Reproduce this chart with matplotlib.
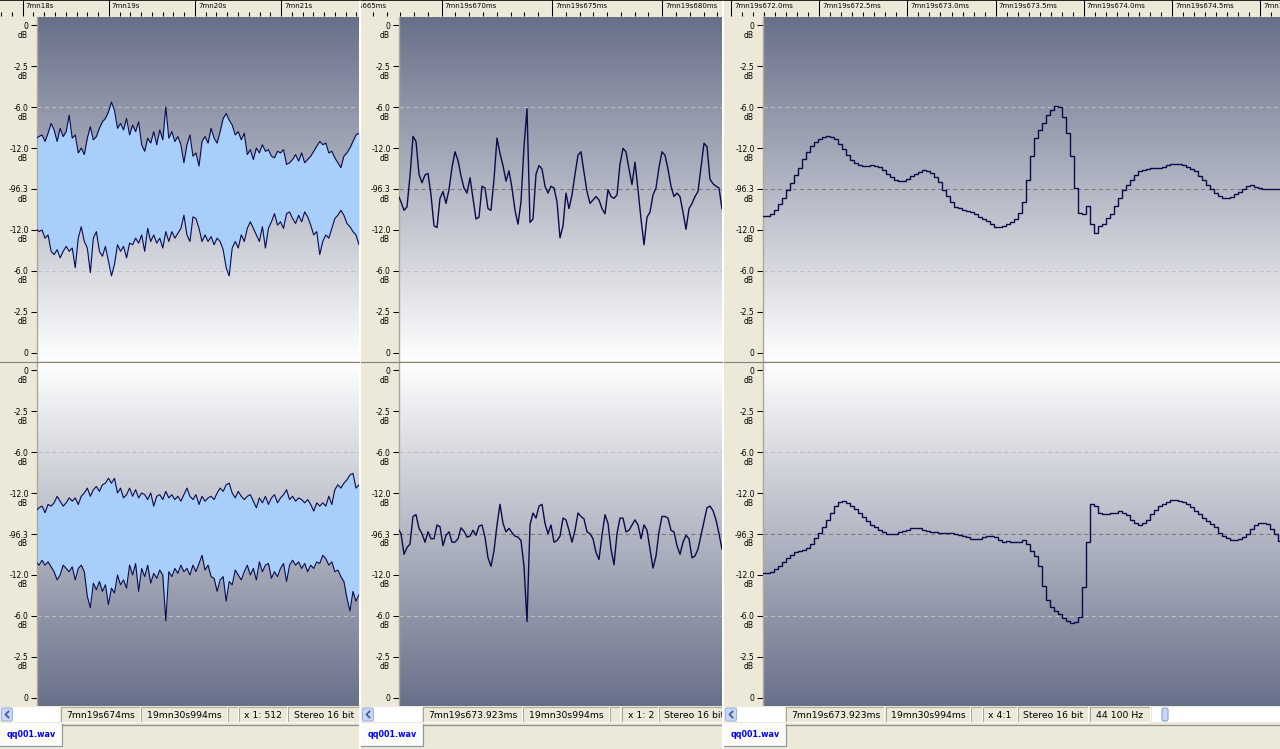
import numpy as np
import matplotlib
matplotlib.use("Agg")
import matplotlib.pyplot as plt
from matplotlib import transforms
from matplotlib.colors import LinearSegmentedColormap
from matplotlib.patches import Rectangle, FancyBboxPatch
from matplotlib.ticker import MultipleLocator

plt.rcParams["font.family"] = ["DejaVu Sans"]

# ---------------------------------------------------------------- data
level_amps = [1.0, 0.75, 0.5, 0.25, 0.0, -0.25, -0.5, -0.75, -1.0]
level_labels = ["0", "-2.5", "-6.0", "-12.0", "-96.3", "-12.0", "-6.0", "-2.5", "0"]

# view 1 (zoom x 1:512): min / max envelopes, left and right channels
p1_left_max = [0.31, 0.32, 0.33, 0.29, 0.34, 0.40, 0.36, 0.29, 0.37, 0.32,
               0.35, 0.45, 0.31, 0.33, 0.22, 0.25, 0.21, 0.31, 0.38, 0.30,
               0.32, 0.37, 0.41, 0.43, 0.47, 0.53, 0.48, 0.37, 0.40, 0.36,
               0.43, 0.33, 0.39, 0.35, 0.41, 0.27, 0.23, 0.31, 0.28, 0.35,
               0.27, 0.36, 0.30, 0.50, 0.31, 0.35, 0.29, 0.32, 0.27, 0.16,
               0.27, 0.33, 0.20, 0.22, 0.14, 0.29, 0.32, 0.28, 0.37, 0.31,
               0.28, 0.35, 0.43, 0.46, 0.42, 0.39, 0.33, 0.35, 0.30, 0.34,
               0.21, 0.24, 0.18, 0.25, 0.22, 0.27, 0.23, 0.24, 0.20, 0.19,
               0.23, 0.22, 0.24, 0.15, 0.16, 0.18, 0.21, 0.17, 0.22, 0.16,
               0.18, 0.20, 0.23, 0.26, 0.29, 0.27, 0.28, 0.22, 0.23, 0.19,
               0.16, 0.13, 0.20, 0.22, 0.25, 0.29, 0.33, 0.34]
p1_left_min = [-0.24, -0.26, -0.25, -0.30, -0.28, -0.38, -0.40, -0.37, -0.42, -0.38,
               -0.35, -0.38, -0.36, -0.48, -0.30, -0.23, -0.32, -0.36, -0.51, -0.30,
               -0.26, -0.38, -0.41, -0.35, -0.44, -0.53, -0.46, -0.34, -0.38, -0.35,
               -0.42, -0.33, -0.34, -0.30, -0.33, -0.28, -0.38, -0.24, -0.32, -0.28,
               -0.33, -0.30, -0.36, -0.26, -0.32, -0.26, -0.30, -0.27, -0.24, -0.16,
               -0.28, -0.32, -0.17, -0.18, -0.24, -0.32, -0.28, -0.32, -0.29, -0.34,
               -0.30, -0.32, -0.37, -0.48, -0.53, -0.36, -0.32, -0.36, -0.28, -0.32,
               -0.24, -0.20, -0.24, -0.28, -0.32, -0.23, -0.36, -0.24, -0.20, -0.15,
               -0.22, -0.20, -0.24, -0.15, -0.14, -0.18, -0.21, -0.16, -0.20, -0.14,
               -0.17, -0.22, -0.28, -0.26, -0.40, -0.32, -0.28, -0.30, -0.24, -0.18,
               -0.16, -0.13, -0.16, -0.21, -0.23, -0.26, -0.28, -0.34]
p1_right_max = [0.14, 0.16, 0.17, 0.13, 0.18, 0.17, 0.19, 0.23, 0.20, 0.17,
                0.19, 0.22, 0.20, 0.22, 0.18, 0.23, 0.25, 0.28, 0.23, 0.27,
                0.29, 0.26, 0.30, 0.31, 0.34, 0.31, 0.34, 0.25, 0.28, 0.22,
                0.24, 0.28, 0.23, 0.27, 0.22, 0.25, 0.24, 0.21, 0.25, 0.17,
                0.23, 0.24, 0.21, 0.26, 0.22, 0.24, 0.21, 0.23, 0.20, 0.24,
                0.28, 0.23, 0.21, 0.24, 0.18, 0.23, 0.20, 0.22, 0.23, 0.21,
                0.25, 0.28, 0.26, 0.30, 0.31, 0.25, 0.22, 0.26, 0.23, 0.21,
                0.23, 0.24, 0.20, 0.16, 0.22, 0.19, 0.23, 0.18, 0.22, 0.24,
                0.19, 0.22, 0.24, 0.27, 0.21, 0.23, 0.20, 0.22, 0.21, 0.19,
                0.21, 0.18, 0.14, 0.19, 0.17, 0.19, 0.17, 0.23, 0.18, 0.27,
                0.30, 0.28, 0.31, 0.33, 0.36, 0.37, 0.28, 0.30]
p1_right_min = [-0.17, -0.19, -0.16, -0.19, -0.17, -0.20, -0.23, -0.28, -0.25, -0.19,
                -0.21, -0.23, -0.20, -0.28, -0.21, -0.19, -0.23, -0.38, -0.45, -0.30,
                -0.34, -0.29, -0.35, -0.31, -0.43, -0.33, -0.36, -0.25, -0.31, -0.28,
                -0.33, -0.19, -0.25, -0.18, -0.35, -0.21, -0.26, -0.19, -0.30, -0.24,
                -0.27, -0.22, -0.25, -0.53, -0.23, -0.26, -0.21, -0.24, -0.19, -0.23,
                -0.21, -0.25, -0.19, -0.23, -0.18, -0.13, -0.22, -0.19, -0.26, -0.27,
                -0.35, -0.28, -0.26, -0.41, -0.29, -0.31, -0.22, -0.25, -0.28, -0.23,
                -0.19, -0.25, -0.21, -0.28, -0.17, -0.23, -0.19, -0.18, -0.27, -0.23,
                -0.26, -0.21, -0.18, -0.29, -0.19, -0.16, -0.19, -0.17, -0.21, -0.18,
                -0.23, -0.19, -0.21, -0.17, -0.18, -0.13, -0.15, -0.19, -0.17, -0.23,
                -0.22, -0.26, -0.29, -0.39, -0.47, -0.35, -0.41, -0.37]

# view 2 (zoom x 1:2): waveform, left and right channels
p2_left = [-0.036, -0.078, -0.130, -0.109, 0.080, 0.321, 0.290, 0.090, 0.038, 0.086,
           0.095, -0.036, -0.225, -0.235, -0.057, -0.015, -0.088, -0.004, 0.132, 0.227,
           0.174, 0.080, 0.006, -0.025, 0.069, -0.057, -0.183, -0.172, 0.017, 0.006,
           -0.120, -0.130, 0.059, 0.311, 0.216, 0.143, 0.048, 0.111, 0.006, -0.130,
           -0.214, -0.078, 0.258, 0.489, -0.204, -0.183, 0.090, 0.143, 0.122, 0.017,
           -0.025, 0.017, 0.006, -0.078, -0.298, -0.225, -0.025, -0.120, -0.036, 0.090,
           0.206, 0.227, 0.101, -0.015, -0.088, -0.067, -0.046, -0.067, -0.120, -0.151,
           -0.004, -0.046, -0.057, -0.036, 0.153, 0.248, 0.227, 0.122, 0.027, 0.164,
           -0.004, -0.183, -0.340, -0.172, -0.141, -0.036, 0.006, 0.132, 0.227, 0.206,
           0.122, 0.017, -0.046, -0.025, -0.046, -0.141, -0.246, -0.120, -0.088, -0.046,
           -0.015, 0.132, 0.279, 0.258, 0.059, 0.032, 0.017, 0.006, -0.120]
p2_right = [0.034, 0.002, -0.124, -0.082, -0.061, 0.107, 0.118, 0.034, 0.002, -0.050,
            0.013, -0.029, -0.029, 0.055, 0.044, -0.071, -0.008, 0.013, -0.050, -0.050,
            -0.029, 0.038, 0.017, -0.019, -0.013, 0.023, -0.008, 0.048, 0.055, -0.019,
            -0.145, -0.197, -0.103, 0.055, 0.181, 0.065, 0.013, 0.034, 0.008, -0.013,
            -0.019, -0.040, -0.197, -0.534, 0.055, 0.128, 0.097, 0.170, 0.181, 0.065,
            0.002, 0.055, -0.050, -0.040, -0.013, 0.097, 0.086, 0.023, -0.050, 0.023,
            0.128, 0.107, 0.092, 0.013, 0.002, -0.029, -0.113, -0.155, -0.008, 0.118,
            0.065, -0.092, -0.187, 0.002, 0.097, 0.097, 0.013, 0.023, 0.055, 0.086,
            0.055, -0.029, 0.055, 0.023, -0.092, -0.208, -0.134, 0.013, 0.107, 0.107,
            0.097, 0.023, 0.013, -0.071, -0.124, -0.050, -0.008, -0.029, -0.145, -0.134,
            -0.092, -0.008, 0.076, 0.160, 0.170, 0.143, 0.086, 0.002, -0.092]

# view 3 (zoom x 4:1): individual samples, left and right channels
p3_left = [-0.166, -0.162, -0.151, -0.130, -0.092, -0.057, -0.006, 0.034, 0.084, 0.130,
           0.181, 0.223, 0.261, 0.288, 0.305, 0.317, 0.321, 0.317, 0.305, 0.273,
           0.242, 0.206, 0.174, 0.158, 0.145, 0.139, 0.139, 0.145, 0.141, 0.132,
           0.116, 0.092, 0.074, 0.057, 0.048, 0.046, 0.061, 0.078, 0.090, 0.103,
           0.116, 0.111, 0.099, 0.074, 0.040, -0.006, -0.044, -0.082, -0.107, -0.118,
           -0.126, -0.134, -0.143, -0.153, -0.170, -0.181, -0.195, -0.212, -0.229, -0.231,
           -0.225, -0.216, -0.204, -0.181, -0.149, -0.078, 0.053, 0.200, 0.313, 0.361,
           0.401, 0.450, 0.481, 0.508, 0.498, 0.437, 0.340, 0.200, 0.006, -0.149,
           -0.153, -0.105, -0.214, -0.271, -0.225, -0.216, -0.179, -0.155, -0.105, -0.055,
           -0.006, 0.023, 0.057, 0.086, 0.107, 0.116, 0.122, 0.126, 0.128, 0.128,
           0.137, 0.149, 0.153, 0.155, 0.155, 0.147, 0.134, 0.124, 0.107, 0.082,
           0.057, 0.027, -0.002, -0.027, -0.044, -0.055, -0.055, -0.048, -0.032, -0.017,
           0.000, 0.019, 0.023, 0.015, 0.006, 0.000, 0.000, 0.000, 0.000, 0.000]
p3_right = [-0.237, -0.237, -0.231, -0.214, -0.197, -0.172, -0.147, -0.128, -0.111, -0.105,
            -0.099, -0.086, -0.061, -0.023, 0.006, 0.044, 0.084, 0.128, 0.170, 0.193,
            0.200, 0.189, 0.172, 0.153, 0.128, 0.105, 0.080, 0.057, 0.040, 0.023,
            0.011, 0.002, 0.000, 0.000, 0.011, 0.019, 0.025, 0.036, 0.038, 0.036,
            0.027, 0.019, 0.015, 0.013, 0.006, 0.006, 0.006, 0.006, 0.002, -0.004,
            -0.011, -0.021, -0.029, -0.029, -0.029, -0.021, -0.015, -0.013, -0.021, -0.038,
            -0.046, -0.042, -0.046, -0.046, -0.046, -0.038, -0.059, -0.101, -0.134, -0.197,
            -0.315, -0.401, -0.443, -0.471, -0.489, -0.515, -0.529, -0.540, -0.536, -0.506,
            -0.324, -0.046, 0.181, 0.170, 0.128, 0.124, 0.120, 0.128, 0.128, 0.139,
            0.128, 0.118, 0.088, 0.065, 0.057, 0.065, 0.084, 0.120, 0.145, 0.170,
            0.185, 0.195, 0.206, 0.206, 0.202, 0.193, 0.181, 0.164, 0.139, 0.122,
            0.099, 0.078, 0.061, 0.040, 0.008, -0.011, -0.027, -0.036, -0.036, -0.029,
            -0.017, 0.000, 0.029, 0.053, 0.065, 0.065, 0.059, 0.029, 0.000, -0.042]

status_p1 = ["7mn19s674ms", "19mn30s994ms", "", "x 1: 512", "Stereo 16 bit"]
status_p2 = ["7mn19s673.923ms", "19mn30s994ms", "", "x 1: 2", "Stereo 16 bit"]
status_p3 = ["7mn19s673.923ms", "19mn30s994ms", "", "x 4:1", "Stereo 16 bit", "44 100 Hz"]
file_name = "qq001.wav"


def fmt_seconds(t):
    s = int(round(t))
    return f"{s // 60}mn{s % 60}s"


def fmt_ms(t):
    return f"7mn19s{t:.0f}ms"


def fmt_ms1(t):
    return f"7mn19s{t:.1f}ms"


# ---------------------------------------------------------------- style / layout
W, H, DPI = 1280, 749, 100
BEIGE = "#ece9d8"
EDGE = "#aca899"
DARK = "#687089"
WAVE = "#0b0b4b"
FILL = "#a8cffa"
GRID_LIGHT = "#bfbfbf"
GRID_MID = "#7b7b7b"
YL = 1.049

fig = plt.figure(figsize=(W / DPI, H / DPI), dpi=DPI, facecolor="white")
grad_cmap = LinearSegmentedColormap.from_list("grad", [DARK, "#ffffff"])


def px_axes(x0, y0, x1, y1, z=0):
    ax = fig.add_axes([x0 / W, 1 - y1 / H, (x1 - x0) / W, (y1 - y0) / H])
    ax.set_zorder(z)
    return ax


def bare(ax):
    ax.set_xticks([])
    ax.set_yticks([])
    for s in ax.spines.values():
        s.set_visible(False)


def channel(px0, px1, y0, y1, dark_top, xlim):
    ax = px_axes(px0, y0, px1, y1, z=2)
    grad = np.linspace(0, 1, 256).reshape(-1, 1)
    if not dark_top:
        grad = grad[::-1]
    ax.imshow(grad, cmap=grad_cmap, aspect="auto", origin="upper",
              extent=(xlim[0], xlim[1], -YL, YL), interpolation="bilinear", zorder=0)
    ax.set_xlim(*xlim)
    ax.set_ylim(-YL, YL)
    for a in (0.5, -0.5):
        ax.axhline(a, color=GRID_LIGHT, lw=0.75, dashes=(4, 3), zorder=1)
    ax.axhline(0.0, color=GRID_MID, lw=0.75, dashes=(4, 3), zorder=1)
    ax.set_xticks([])
    ax.set_yticks(level_amps)
    ax.set_yticklabels(level_labels)
    ax.tick_params(axis="y", length=4.5, width=0.75, pad=1.5, labelsize=5.5, colors="black")
    for s in ("top", "right", "bottom"):
        ax.spines[s].set_visible(False)
    ax.spines["left"].set_color(EDGE)
    ax.spines["left"].set_linewidth(1.0)
    tr = (transforms.blended_transform_factory(ax.transAxes, ax.transData)
          + transforms.ScaledTranslation(-14.5 / DPI, -10 / DPI, fig.dpi_scale_trans))
    for a in level_amps[:-1]:
        ax.text(0, a, "dB", transform=tr, ha="center", va="center", fontsize=5.5, clip_on=False)
    return ax


def ruler(x0, x1, lim, major, fmt):
    ax = px_axes(x0, 0, x1, 16, z=2)
    ax.set_facecolor(BEIGE)
    ax.set_xlim(*lim)
    ax.set_ylim(0, 1)
    ax.set_yticks([])
    ax.xaxis.set_major_locator(MultipleLocator(major))
    ax.xaxis.set_minor_locator(MultipleLocator(major / 8))
    ax.tick_params(axis="x", which="major", direction="in", length=11.5, width=0.75,
                   color="black", labelbottom=False)
    ax.tick_params(axis="x", which="minor", direction="in", length=2.9, width=0.75, color="black")
    for s in ("left", "right", "bottom"):
        ax.spines[s].set_visible(False)
    ax.spines["top"].set_color("black")
    ax.spines["top"].set_linewidth(1.2)
    off = transforms.ScaledTranslation(3 / DPI, 0, fig.dpi_scale_trans)
    t = np.floor(lim[0] / major) * major
    if lim[0] - t > 0.5 * major:      # label of that tick would be entirely hidden
        t += major
    while t < lim[1]:
        ax.text(t, 0.6, fmt(t), transform=ax.transData + off, fontsize=5.0,
                ha="left", va="center", clip_on=True)
        t += major
    return ax


def chrome(x0, x1, boxes, fields):
    ax = px_axes(x0, 706, x1, H, z=3)
    ax.set_xlim(x0, x1)
    ax.set_ylim(H, 706)
    ax.set_facecolor(BEIGE)
    bare(ax)
    ax.add_patch(FancyBboxPatch((x0 + 1.5, 708), 11, 13, boxstyle="round,pad=0,rounding_size=2",
                                fc="#c6d6fc", ec="#9db5e8", lw=0.75))
    ax.plot([x0 + 8.5, x0 + 5.5, x0 + 8.5], [711.5, 714.5, 717.5], color="#4b5f8a", lw=1.3)
    ax.add_patch(Rectangle((x0 + 13, 707), boxes[0][0] - x0 - 14, 15, fc="white", ec="none"))
    for (l, r), txt in zip(boxes, fields):
        ax.add_patch(Rectangle((l, 707), r - l, 15, fc=BEIGE, ec="none"))
        ax.plot([l, l, r], [722, 707, 707], color=EDGE, lw=0.75)
        ax.plot([l, r, r], [722, 722, 707], color="white", lw=0.75)
        ax.text(l + 5.5, 715, txt, fontsize=6.7, ha="left", va="center", clip_on=True)
    ax.plot([x0 + 62, x1], [724.5, 724.5], color="#8e8e8e", lw=0.9)
    ax.add_patch(Rectangle((x0, 723), 62, 23, fc="#fbfbfa", ec="none"))
    ax.plot([x0 + 62, x0 + 62, x0], [724, 746, 746], color="#919b9c", lw=0.9)
    ax.text(x0 + 31, 734.5, file_name, fontsize=5.8, fontweight="bold", color="#0000ff",
            ha="center", va="center")
    return ax


# panel backgrounds
for (a, b) in [(0, 359), (361, 722), (724, 1280)]:
    bg = px_axes(a, 0, b, H, z=-1)
    bg.set_facecolor(BEIGE)
    bare(bg)

# ---------------------------------------------------------------- view 1
ruler(0, 359, (437.7364, 441.9045), 1.0, fmt_seconds)
x1 = np.arange(len(p1_left_max))
for y0, y1, dark_top, lo, hi in [(17, 361, True, p1_left_min, p1_left_max),
                                 (362, 706, False, p1_right_min, p1_right_max)]:
    ax = channel(37, 359, y0, y1, dark_top, (1 / 3, len(x1) - 1))
    ax.fill_between(x1, lo, hi, color=FILL, lw=0, zorder=2)
    ax.plot(x1, hi, color=WAVE, lw=0.8, zorder=3)
    ax.plot(x1, lo, color=WAVE, lw=0.8, zorder=3)
chrome(0, 359, [(61, 140), (141, 227), (228, 238), (239, 287), (288, 372)], status_p1)

# ---------------------------------------------------------------- view 2
ruler(361, 722, (666.340, 682.712), 5.0, fmt_ms)
x2 = np.arange(len(p2_left))
for y0, y1, dark_top, ys in [(17, 361, True, p2_left), (362, 706, False, p2_right)]:
    ax = channel(399, 722, y0, y1, dark_top, (1 / 3, len(x2) - 1))
    ax.plot(x2, ys, color=WAVE, lw=1.0, zorder=3)
chrome(361, 722, [(423, 522), (523, 609), (610, 620), (622, 658), (659, 735)], status_p2)

# ---------------------------------------------------------------- view 3
ruler(724, 1280, (671.9603, 675.1122), 0.5, fmt_ms1)
edges3 = np.arange(len(p3_left) + 1)
for y0, y1, dark_top, ys in [(17, 361, True, p3_left), (362, 706, False, p3_right)]:
    ax = channel(763, 1280, y0, y1, dark_top, (0.25, 129.5))
    ax.stairs(ys, edges3, baseline=None, color=WAVE, lw=1.0, zorder=3)
c3 = chrome(724, 1280, [(786, 884), (886, 970), (971, 982), (983, 1017), (1018, 1088), (1090, 1150)],
            status_p3)
c3.add_patch(Rectangle((1152, 707), 128, 15, fc="white", ec="none"))
c3.add_patch(FancyBboxPatch((1162, 708), 6, 13, boxstyle="round,pad=0,rounding_size=2",
                            fc="#c6d6fc", ec="#7f9ddb", lw=0.75))

# ---------------------------------------------------------------- overlay: channel separators
ov = px_axes(0, 0, W, H, z=5)
ov.set_xlim(0, W)
ov.set_ylim(H, 0)
ov.patch.set_alpha(0)
bare(ov)
for (a, b) in [(0, 359), (361, 722), (724, 1280)]:
    ov.plot([a, b], [361.5, 361.5], color="#808080", lw=0.8)

fig.savefig("out.png", dpi=DPI, facecolor=fig.get_facecolor())
